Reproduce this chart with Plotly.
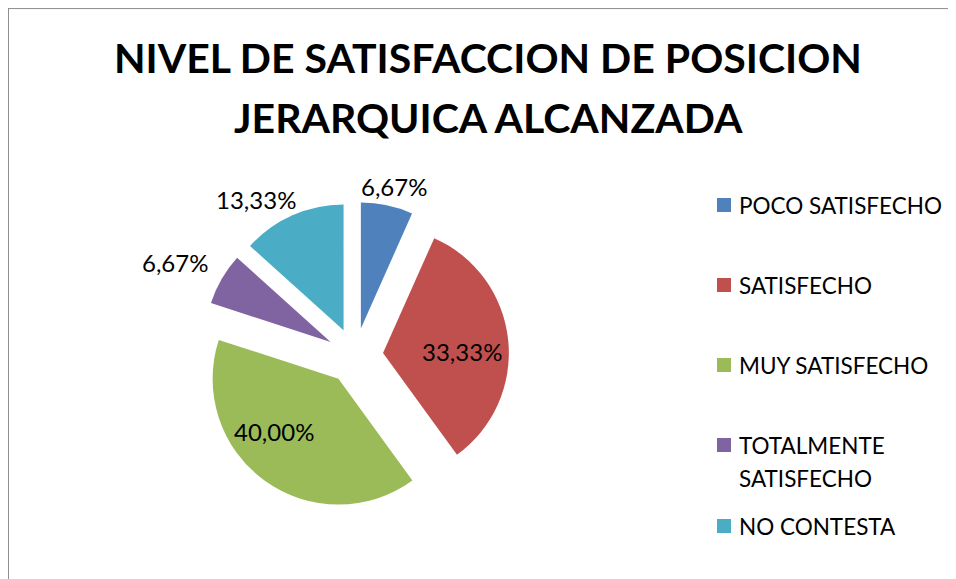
import plotly.graph_objects as go

categories = ["POCO SATISFECHO", "SATISFECHO", "MUY SATISFECHO", "TOTALMENTE SATISFECHO", "NO CONTESTA"]
values = [6.67, 33.33, 40.00, 6.67, 13.33]
labels_text = ["6,67%", "33,33%", "40,00%", "6,67%", "13,33%"]
colors = ["#4F81BD", "#C0504D", "#9BBB59", "#8064A2", "#4BACC6"]
explode = [0.224, 0.224, 0.224, 0.224, 0.224]
title_lines = ["NIVEL DE SATISFACCION DE POSICION", "JERARQUICA ALCANZADA"]

# The page body adds an 8 px margin, so the figure is 948x571 and reference pixels are shifted.
W, H, OFF = 948, 571, 8
FONT = "Lato, Carlito, Liberation Sans, sans-serif"
def px(x): return (x - OFF) / W
def py(y): return 1 - (y - OFF) / H

fig = go.Figure(go.Pie(
    labels=categories, values=values, text=labels_text, textinfo="none",
    sort=False, direction="clockwise", rotation=0, pull=explode,
    marker=dict(colors=colors), showlegend=False,
    domain=dict(x=[px(201), px(509)], y=[py(510), py(202)]),
))

fig.update_layout(
    width=W, height=H, autosize=False, paper_bgcolor="white", plot_bgcolor="white",
    margin=dict(l=0, r=0, t=0, b=0),
    font=dict(family=FONT, size=23, color="black"),
    shapes=[
        dict(type="line", xref="paper", yref="paper", x0=0.0005, x1=0.0005, y0=0, y1=1, line=dict(color="#8c8c8c", width=1)),
        dict(type="line", xref="paper", yref="paper", x0=0, x1=1, y0=0.999, y1=0.999, line=dict(color="#8c8c8c", width=1)),
    ],
)

for line, y in zip(title_lines, [58, 117]):
    fig.add_annotation(text=f"<b>{line}</b>", x=px(488), y=py(y), xref="paper", yref="paper",
                       xanchor="center", yanchor="middle", showarrow=False, font=dict(size=41, family=FONT))
for txt, x, y in zip(labels_text, [394, 462, 274, 175, 256], [187, 351, 431, 262, 199]):
    fig.add_annotation(text=txt, x=px(x), y=py(y), xref="paper", yref="paper", showarrow=False,
                       xanchor="center", yanchor="middle", font=dict(size=24))
legend_rows = [("POCO SATISFECHO", 205), ("SATISFECHO", 285), ("MUY SATISFECHO", 365), ("TOTALMENTE", 445), ("SATISFECHO", 478), ("NO CONTESTA", 526)]
for c, y in zip(colors, [205, 285, 365, 445, 526]):
    fig.add_shape(type="rect", xref="paper", yref="paper", x0=px(717), x1=px(731),
                  y0=py(y + 7), y1=py(y - 7), fillcolor=c, line_width=0)
for name, y in legend_rows:
    fig.add_annotation(text=name, x=px(737), y=py(y), xref="paper", yref="paper", showarrow=False,
                       xanchor="left", yanchor="middle", align="left", font=dict(size=22.5))

fig.write_html("out.html")
